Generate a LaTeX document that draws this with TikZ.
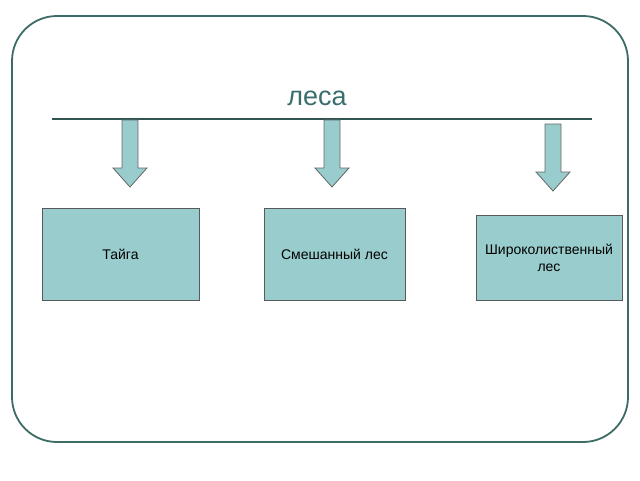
\documentclass[tikz,border=0pt]{standalone}
\usepackage{fontspec}
\setmainfont{Liberation Sans}
\definecolor{fillc}{HTML}{99CCCC}
\definecolor{framec}{HTML}{3D6B66}
\definecolor{titlec}{HTML}{3A6E6E}
\begin{document}
\begin{tikzpicture}[x=1pt,y=-1pt,
  boxst/.style={draw=black!65,fill=fillc,line width=0.8pt,inner sep=0pt,font=\fontsize{14}{17}\selectfont,align=center},
  arrowst/.style={draw=black!60,fill=fillc,line width=0.8pt}]
\useasboundingbox (0,0) rectangle (640,480);
\draw[framec,line width=1.8pt,rounded corners=45pt] (12,16) rectangle (628,442);
\node[text=titlec,font=\fontsize{27}{32}\selectfont] (title) at (317,98) {леса};
\draw[color=framec!80!black,line width=2.8pt] (52,119) -- (592,119);
\foreach \c/\t in {130/120,332/120,553/124}{
  \draw[arrowst] (\c-8,\t) -- (\c+8,\t) -- (\c+8,\t+48) -- (\c+17,\t+48) -- (\c,\t+67) -- (\c-17,\t+48) -- (\c-8,\t+48) -- cycle;
}
\node[boxst,minimum width=157pt,minimum height=92pt] (taiga) at (120.5,254) {Тайга};
\node[boxst,minimum width=141pt,minimum height=92pt] (mixed) at (334.5,254) {Смешанный лес};
\node[boxst,minimum width=146pt,minimum height=85pt] (broad) at (549,257.5) {Широколиственный\\лес};
\end{tikzpicture}
\end{document}
